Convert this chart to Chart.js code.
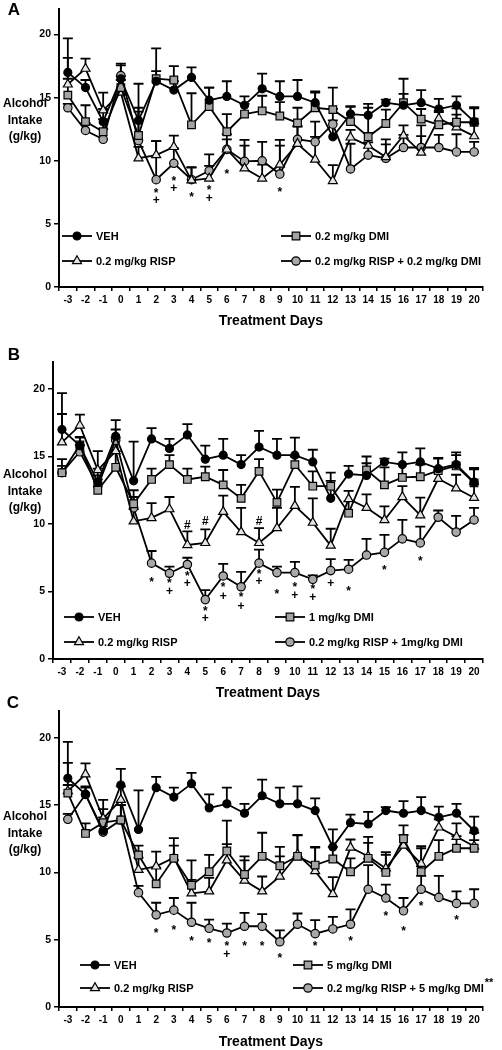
<!DOCTYPE html>
<html>
<head>
<meta charset="utf-8">
<script src="https://cdn.jsdelivr.net/npm/chart.js@4.4.1/dist/chart.umd.min.js"></script>
<style>
    html, body { margin: 0; padding: 0; background: #fff; }
    body { width: 502px; height: 1050px; position: relative; overflow: hidden; }
    canvas { position: absolute; left: 0; }
</style>
</head>
<body>
<canvas id="chartA" width="502" height="340" style="top:0px"></canvas>
<canvas id="chartB" width="502" height="362" style="top:340px"></canvas>
<canvas id="chartC" width="502" height="360" style="top:690px"></canvas>
<script>
// treatment days and y ticks
const days = ['-3', '-2', '-1', '0', '1', '2', '3', '4', '5', '6', '7', '8', '9', '10',
    '11', '12', '13', '14', '15', '16', '17', '18', '19', '20'];
const yTicks = [0, 5, 10, 15, 20];

// shared groups (same in all three panels)
const vehMean = [17.0, 15.8, 13.1, 16.5, 13.2, 16.3, 15.6, 16.6, 14.8, 15.1, 14.4, 15.7, 15.1, 15.1, 14.6, 11.9, 13.7, 13.6, 14.6, 14.4, 14.6, 14.1, 14.4, 13.1];
const vehErr = [2.7, 0.6, 1.0, 1.2, 2.9, 0.8, 0.7, 0.8, 1.0, 1.2, 0.7, 1.2, 1.2, 1.3, 0.9, 1.3, 0.6, 0.9, 0.25, 0.9, 1.0, 0.8, 0.7, 1.05];
const rispMean = [16.05, 17.3, 14.0, 15.4, 10.2, 10.45, 11.1, 8.45, 8.6, 10.9, 9.4, 8.6, 9.7, 11.35, 10.1, 8.4, 11.85, 11.2, 10.3, 12.0, 10.65, 13.35, 12.65, 11.95];
const rispErr = [2.1, 0.8, 1.4, 1.0, 0.9, 1.1, 0.9, 1.0, 1.0, 1.2, 1.8, 1.1, 1.5, 1.4, 1.8, 1.25, 0.6, 1.0, 1.0, 0.8, 1.3, 0.6, 1.0, 1.0];

// panel A: 0.2 mg/kg DMI
const dmiA = [15.2, 13.1, 12.3, 15.8, 12.0, 16.5, 16.4, 12.85, 14.3, 12.3, 13.7, 13.95, 13.55, 13.0, 14.2, 14.05, 13.1, 11.9, 12.95, 14.6, 13.3, 12.85, 13.05, 13.05];
const dmiAErr = [1.3, 1.3, 1.0, 0.9, 2.2, 2.4, 1.1, 2.5, 1.5, 1.4, 0.8, 1.2, 1.1, 1.2, 1.2, 1.75, 1.2, 2.3, 1.1, 1.9, 0.8, 1.0, 1.1, 1.2];
const comboA = [14.2, 12.4, 11.7, 16.75, 11.6, 8.5, 9.8, 8.5, 9.2, 10.9, 9.95, 10.0, 8.95, 11.7, 11.5, 12.9, 9.35, 10.45, 10.2, 11.05, 11.05, 11.05, 10.7, 10.7];
const comboAErr = [0.3, 0.6, 0.8, 0.8, 2.3, 3.05, 1.2, 1.0, 1.3, 0.8, 1.7, 1.5, 2.7, 1.0, 1.6, 1.2, 2.0, 1.0, 1.5, 1.0, 1.75, 1.0, 1.4, 0.8];

// panel B: 1 mg/kg DMI
const dmiB = [13.8, 15.85, 12.5, 14.2, 11.5, 13.3, 14.4, 13.3, 13.5, 12.9, 11.9, 13.9, 11.6, 14.4, 12.8, 12.8, 10.8, 14.0, 12.9, 13.45, 13.5, 13.95, 14.3, 13.05];
const dmiBErr = [1.0, 0.6, 0.8, 1.2, 1.0, 0.8, 0.7, 0.8, 0.75, 1.1, 1.0, 0.9, 0.95, 0.6, 1.1, 1.0, 0.9, 1.0, 1.3, 1.0, 0.9, 0.9, 1.0, 1.0];
const comboB = [13.8, 15.35, 12.8, 16.2, 11.2, 7.1, 6.35, 7.0, 4.4, 6.15, 5.35, 7.1, 6.4, 6.4, 5.9, 6.55, 6.65, 7.7, 7.9, 8.9, 8.6, 10.5, 9.4, 10.3];
const comboBErr = [0.5, 0.5, 0.8, 0.8, 0.8, 0.9, 0.5, 0.5, 0.7, 0.9, 1.1, 1.0, 0.45, 0.8, 0.3, 0.85, 0.7, 1.2, 1.3, 1.4, 1.2, 0.5, 1.2, 0.9];

// panel C: 5 mg/kg DMI
const dmiC = [15.9, 12.9, 13.7, 13.9, 11.3, 9.15, 11.05, 9.05, 10.05, 11.6, 9.85, 11.2, 10.5, 11.2, 10.55, 11.0, 10.05, 11.05, 10.0, 12.5, 10.05, 11.2, 11.8, 11.8];
const dmiCErr = [0.6, 0.75, 1.0, 1.1, 0.7, 1.2, 1.5, 1.85, 1.25, 2.25, 1.05, 1.75, 1.4, 1.6, 1.3, 0.9, 1.0, 1.6, 1.5, 1.0, 1.75, 1.2, 0.9, 0.6];
const comboC = [13.95, 15.8, 13.0, 13.9, 8.5, 6.85, 7.2, 6.3, 5.85, 5.5, 6.0, 6.0, 4.85, 6.15, 5.45, 5.8, 6.15, 8.75, 8.1, 7.15, 8.75, 8.15, 7.7, 7.7];
const comboCErr = [0.4, 0.5, 0.9, 1.1, 0.5, 0.9, 0.9, 1.45, 0.65, 0.7, 1.0, 0.9, 0.85, 0.8, 1.0, 0.9, 1.1, 1.8, 1.0, 0.95, 1.0, 1.6, 0.9, 1.05];

// significance marks: [day, value where the mark sits, symbol]
const sigA = [['2', 7.6, '*'], ['2', 6.8, '+'], ['3', 8.6, '*'], ['3', 7.8, '+'], ['4', 7.3, '*'],
    ['5', 7.85, '*'], ['5', 7.0, '+'], ['6', 9.15, '*'], ['9', 7.7, '*']];
const sigB = [['4', 9.9, '#'], ['5', 10.2, '#'], ['8', 10.2, '#'],
    ['2', 5.85, '*'], ['3', 5.8, '*'], ['3', 5.0, '+'], ['4', 6.35, '*'], ['4', 5.55, '+'],
    ['5', 3.75, '*'], ['5', 3.0, '+'], ['6', 5.5, '*'], ['6', 4.65, '+'], ['7', 4.75, '*'], ['7', 3.9, '+'],
    ['8', 6.5, '*'], ['8', 5.7, '+'], ['9', 5.0, '*'], ['10', 5.5, '*'], ['10', 4.7, '+'],
    ['11', 5.35, '*'], ['11', 4.55, '+'], ['12', 5.6, '+'], ['13', 5.2, '*'], ['15', 6.8, '*'], ['17', 7.45, '*']];
const sigC = [['2', 5.7, '*'], ['3', 5.9, '*'], ['4', 5.1, '*'], ['5', 4.9, '*'], ['6', 4.7, '*'], ['6', 3.9, '+'],
    ['7', 4.7, '*'], ['8', 4.7, '*'], ['9', 3.85, '*'], ['11', 4.7, '*'], ['13', 5.1, '*'],
    ['15', 6.9, '*'], ['16', 5.85, '*'], ['17', 7.7, '*'], ['19', 6.65, '*']];

const FONT = '"Liberation Sans", Arial, Helvetica, sans-serif';
Chart.defaults.font.family = FONT;
Chart.defaults.font.weight = 'bold';
Chart.defaults.color = '#000';

function drawMarker(ctx, style, x, y, r, fill) {
    ctx.save();
    ctx.fillStyle = fill;
    ctx.strokeStyle = '#000';
    ctx.lineWidth = 1.2;
    ctx.beginPath();
    if (style === 'rect') {
        const s = r * Math.SQRT1_2;
        ctx.rect(x - s, y - s, 2 * s, 2 * s);
    } else if (style === 'triangle') {
        ctx.moveTo(x, y - r);
        ctx.lineTo(x + r * 0.866, y + r * 0.5);
        ctx.lineTo(x - r * 0.866, y + r * 0.5);
        ctx.closePath();
    } else {
        ctx.arc(x, y, r, 0, Math.PI * 2);
    }
    ctx.fill();
    ctx.stroke();
    ctx.restore();
}

const extrasPlugin = {
    id: 'extras',
    beforeDatasetsDraw(chart, args, o) {
        // upper error bars, under the markers
        const ctx = chart.ctx;
        const ys = chart.scales.y;
        ctx.save();
        ctx.strokeStyle = '#000';
        ctx.lineWidth = 1.8;
        chart.data.datasets.forEach((ds, i) => {
            const meta = chart.getDatasetMeta(i);
            meta.data.forEach((pt, j) => {
                const top = ys.getPixelForValue(ds.data[j] + ds.errors[j]);
                ctx.beginPath();
                ctx.moveTo(pt.x, pt.y);
                ctx.lineTo(pt.x, top);
                ctx.moveTo(pt.x - 5, top);
                ctx.lineTo(pt.x + 5, top);
                ctx.stroke();
            });
        });
        ctx.restore();
    },
    afterDatasetsDraw(chart, args, o) {
        const ctx = chart.ctx;
        const xs = chart.scales.x;
        const ys = chart.scales.y;
        const area = chart.chartArea;
        ctx.save();
        ctx.fillStyle = '#000';
        ctx.textAlign = 'center';
        ctx.textBaseline = 'middle';

        // significance marks
        o.sig.forEach(([day, v, sym]) => {
            const x = xs.getPixelForValue(days.indexOf(day));
            const y = ys.getPixelForValue(v);
            ctx.font = 'bold 12px ' + FONT;
            ctx.fillText(sym, x, sym === '*' ? y + 3 : y);
        });

        // panel letter
        ctx.font = 'bold 17px ' + FONT;
        ctx.fillText(o.letter, o.letterPos[0], o.letterPos[1]);

        // y title, horizontal, three lines
        ctx.font = 'bold 12px ' + FONT;
        ['Alcohol', 'Intake', '(g/kg)'].forEach((t, k) => ctx.fillText(t, 25, o.yTitleY + k * 16.5));

        // x title
        ctx.font = 'bold 14px ' + FONT;
        ctx.fillText('Treatment Days', (area.left + area.right) / 2, area.bottom + o.xTitleGap);

        // legend
        ctx.textAlign = 'left';
        ctx.font = 'bold 11px ' + FONT;
        const ds = chart.data.datasets;
        const slots = [[o.legX[0], o.legY[0]], [o.legX[1], o.legY[0]], [o.legX[0], o.legY[1]], [o.legX[1], o.legY[1]]];
        slots.forEach(([lx, ly], i) => {
            const d = ds[i];
            ctx.strokeStyle = '#000';
            ctx.lineWidth = 1.8;
            ctx.beginPath();
            ctx.moveTo(lx, ly);
            ctx.lineTo(lx + 30, ly);
            ctx.stroke();
            drawMarker(ctx, d.pointStyle, lx + 15, ly, d.pointRadius, d.pointBackgroundColor);
            ctx.fillText(d.label, lx + 34, ly + 1);
            if (i === 3 && o.mark) {
                const w = ctx.measureText(d.label).width;
                ctx.fillText(o.mark, lx + 35 + w, ly - 5);
            }
        });
        ctx.restore();
    }
};

function series(label, data, errors, style, radius, fill) {
    return {
        label: label,
        data: data,
        errors: errors,
        borderColor: '#000',
        borderWidth: 1.8,
        pointStyle: style,
        pointRadius: radius,
        pointHoverRadius: radius,
        pointBackgroundColor: fill,
        pointBorderColor: '#000',
        pointBorderWidth: 1.2,
        tension: 0,
        fill: false,
    };
}

function makePanel(id, p) {
    new Chart(document.getElementById(id), {
        type: 'line',
        data: {
            labels: days,
            datasets: [
                series('VEH', vehMean, vehErr, 'circle', 4, '#000'),
                series(p.dmiLabel, p.dmi, p.dmiErr, 'rect', 5.4, '#a3a3a3'),
                series('0.2 mg/kg RISP', rispMean, rispErr, 'triangle', 5.2, '#e4e4e4'),
                series(p.comboLabel, p.combo, p.comboErr, 'circle', 4.2, '#a8a8a8'),
            ],
        },
        options: {
            responsive: false,
            animation: false,
            events: [],
            layout: { padding: { top: p.padTop, right: 19, left: 0, bottom: 0 } },
            plugins: {
                legend: { display: false },
                tooltip: { enabled: false },
                extras: p.extras,
            },
            scales: {
                x: {
                    offset: true,
                    afterFit: (s) => { s.height = p.xHeight; },
                    grid: { display: true, drawOnChartArea: false, offset: true, tickLength: 4, color: '#000', lineWidth: 1.5 },
                    border: { color: '#000', width: 2 },
                    ticks: { font: { size: 10, weight: 'bold' }, padding: 3, maxRotation: 0, autoSkip: false },
                },
                y: {
                    min: 0,
                    max: 22,
                    afterFit: (s) => { s.width = p.yWidth; },
                    afterBuildTicks: (s) => { s.ticks = yTicks.map(v => ({ value: v })); },
                    grid: { display: true, drawOnChartArea: false, tickLength: 5, color: '#000', lineWidth: 1.5 },
                    border: { color: '#000', width: 2 },
                    ticks: { font: { size: 10.5, weight: 'bold' }, padding: 3 },
                },
            },
        },
        plugins: [extrasPlugin],
    });
}

makePanel('chartA', {
    dmiLabel: '0.2 mg/kg DMI', dmi: dmiA, dmiErr: dmiAErr,
    comboLabel: '0.2 mg/kg RISP + 0.2 mg/kg DMI', combo: comboA, comboErr: comboAErr,
    padTop: 1, xHeight: 53, yWidth: 59,
    extras: { sig: sigA, letter: 'A', letterPos: [14, 10], yTitleY: 104, xTitleGap: 34,
        legX: [62, 281], legY: [236, 261], mark: '' },
});

makePanel('chartB', {
    dmiLabel: '1 mg/kg DMI', dmi: dmiB, dmiErr: dmiBErr,
    comboLabel: '0.2 mg/kg RISP + 1mg/kg DMI', combo: comboB, comboErr: comboBErr,
    padTop: 22, xHeight: 43, yWidth: 53,
    extras: { sig: sigB, letter: 'B', letterPos: [14, 15], yTitleY: 135, xTitleGap: 34,
        legX: [64, 275], legY: [277, 302], mark: '' },
});

makePanel('chartC', {
    dmiLabel: '5 mg/kg DMI', dmi: dmiC, dmiErr: dmiCErr,
    comboLabel: '0.2 mg/kg RISP + 5 mg/kg DMI', combo: comboC, comboErr: comboCErr,
    padTop: 21, xHeight: 43, yWidth: 59,
    extras: { sig: sigC, letter: 'C', letterPos: [13, 13], yTitleY: 127, xTitleGap: 35,
        legX: [80, 293], legY: [275, 298], mark: '**' },
});
</script>
</body>
</html>
